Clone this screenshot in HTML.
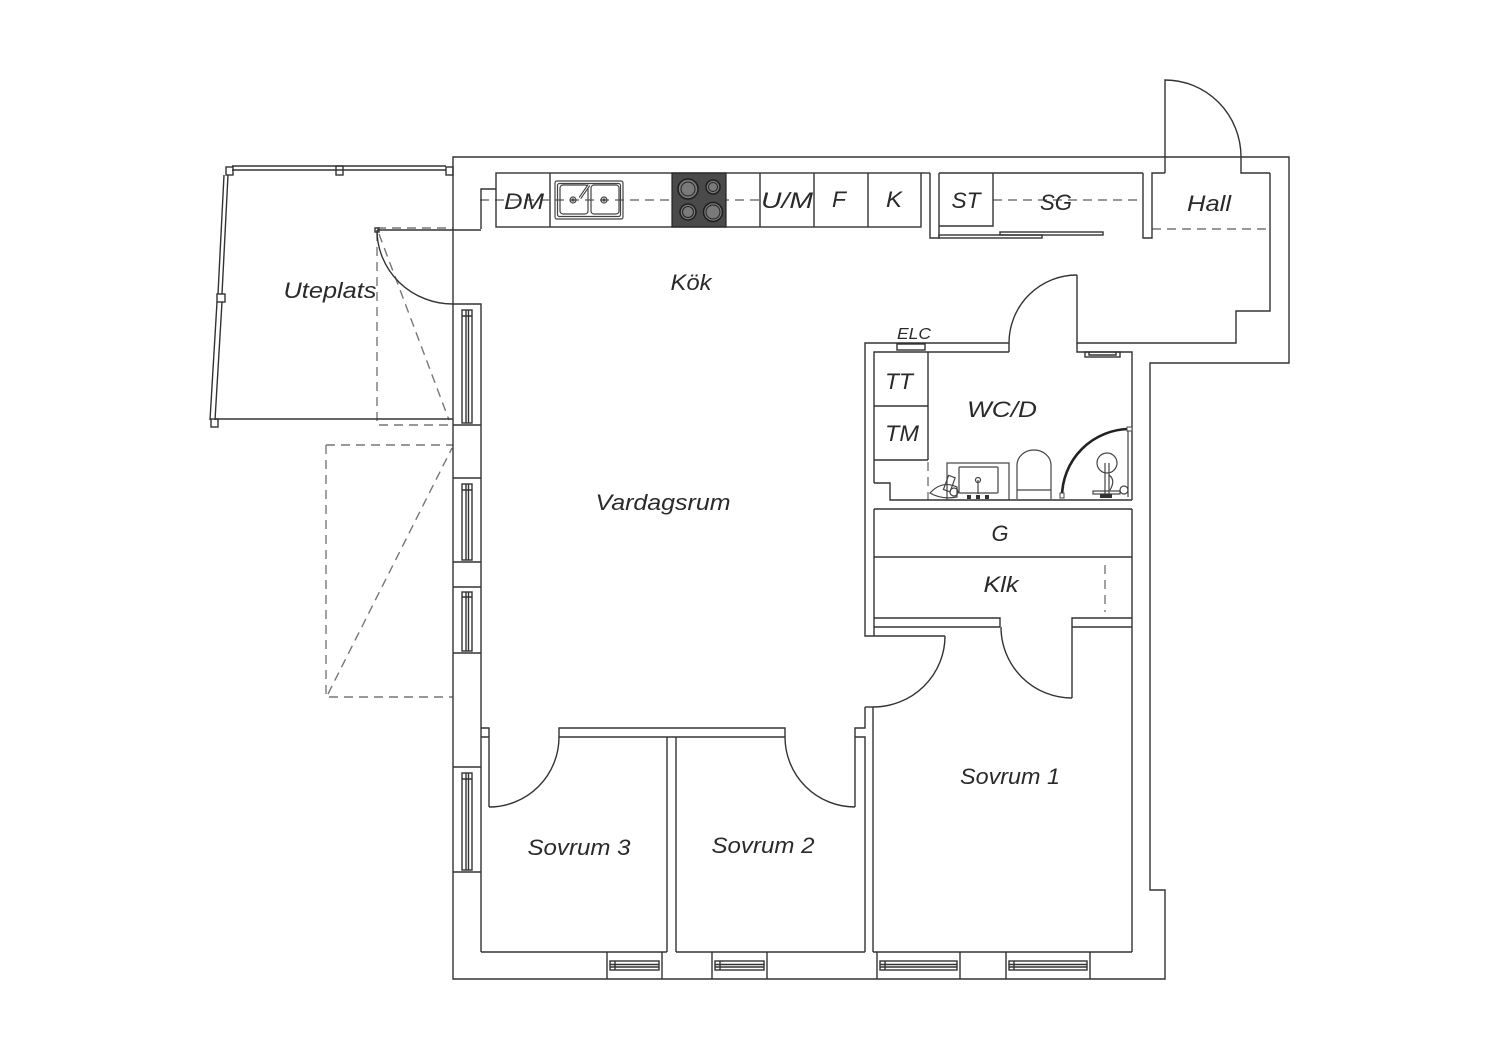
<!DOCTYPE html>
<html>
<head>
<meta charset="utf-8">
<style>
html,body{margin:0;padding:0;background:#fff;}
svg{display:block;}
text{font-family:"Liberation Sans",sans-serif;font-style:italic;fill:#2a2a2a;}
</style>
</head>
<body>
<svg width="1500" height="1060" viewBox="0 0 1500 1060" xmlns="http://www.w3.org/2000/svg">
<rect width="1500" height="1060" fill="#fff"/>

<!-- dashed lines -->
<g fill="none" stroke="#777" stroke-width="1.4" stroke-dasharray="9,6">
  <path d="M480,200 H760"/>
  <path d="M993,200 H1143"/>
  <path d="M1152,229 H1270"/>
  <path d="M377,228 H453"/>
  <path d="M377,232 V425 H453"/>
  <path d="M379,234 L449,420"/>
  <path d="M326,445 H453 M326,445 V697 H453"/>
  <path d="M328,694 L452,448"/>
  <path d="M1105,565 V612"/>
  <path d="M928,462 V500"/>
</g>

<g fill="none" stroke="#333" stroke-width="1.4" stroke-linejoin="miter">
  <!-- outer boundary -->
  <path d="M453,157 H1289 V363 H1150 V890 H1165 V979 H453 Z"/>

  <!-- Uteplats railing -->
  <path d="M232,166 H446 M232,170 H446"/>
  <rect x="226" y="167" width="7" height="8"/>
  <rect x="336" y="166" width="7" height="9"/>
  <rect x="446" y="167" width="7" height="8"/>
  <path d="M224,175 L218,294 M228,175 L222,294"/>
  <path d="M217,302 L210,420 M222,302 L215,420"/>
  <rect x="217" y="294" width="8" height="8"/>
  <rect x="211" y="419" width="7" height="8"/>
  <path d="M215,419 H453"/>
  <rect x="375" y="228" width="4" height="4"/>

  <!-- left wall / kitchen corner -->
  <path d="M481,229 V189 H496"/>
  <path d="M377,230 H481"/>
  <path d="M377,230 A76,74 0 0 0 453,304"/>
  <path d="M453,304 H481 V952"/>

  <!-- kitchen counter -->
  <rect x="496" y="173" width="425" height="54"/>
  <path d="M550,173 V227 M760,173 V227 M814,173 V227 M868,173 V227"/>
  <path d="M921,173 H930"/>
  <!-- kitchen / ST wall -->
  <path d="M930,173 V238 H939 V173"/>
  <path d="M939,173 H1143"/>
  <path d="M939,226 H993 V173"/>
  <path d="M1143,173 V238 H1152 V173 H1165"/>
  <rect x="939" y="235" width="103" height="3"/>
  <rect x="1000" y="232" width="103" height="3"/>

  <!-- entrance door -->
  <path d="M1165,173 V80 A76,77 0 0 1 1241,157 V173 H1270"/>

  <!-- hall right / WC top -->
  <path d="M1270,173 V311 H1236 V343 H1077 V275"/>
  <path d="M1077,275 A68,68 0 0 0 1009,343"/>
  <path d="M1009,343 V352"/>
  <path d="M1009,343 H865 V636 H945"/>
  <path d="M945,636 A72,71 0 0 1 873,707"/>
  <path d="M865,707 H873"/>
  <path d="M865,707 V728 H855 V807"/>
  <path d="M855,807 A70,70 0 0 1 785,737"/>
  <path d="M785,737 V728 H559 V737 H785"/>
  <path d="M559,737 A70,70 0 0 1 489,807"/>
  <path d="M489,807 V737 H481 M481,728 H489 V737"/>
  <path d="M855,737 H865 V952"/>

  <!-- bedroom partitions -->
  <path d="M667,737 V952 M676,737 V952"/>
  <path d="M873,707 V952"/>
  <path d="M481,952 H667 M676,952 H865 M873,952 H1132"/>
  <path d="M1132,509 V952"/>

  <!-- closets G / Klk -->
  <path d="M874,509 V636"/>
  <path d="M874,509 H1132"/>
  <path d="M874,557 H1132"/>
  <path d="M874,618 H1000 V627 M874,627 H1000"/>
  <path d="M1072,698 V618 H1132 M1072,627 H1132"/>
  <path d="M1072,698 A71,71 0 0 1 1001,627"/>

  <!-- WC -->
  <path d="M874,483 V352 H1009"/>
  <path d="M1077,343 V352 H1132 V500"/>
  <path d="M874,483 H890 V500 H1132"/>
  <path d="M928,352 V460 M874,406 H928 M874,460 H928"/>
  <rect x="897" y="344" width="28" height="6"/>
  <rect x="1085" y="352" width="35" height="5"/>
  <path d="M1089,352 V355 H1116 V352"/>

  <!-- left wall windows -->
  <path d="M453,425 H481 M453,478 H481 M453,562 H481 M453,587 H481 M453,653 H481 M453,767 H481 M453,872 H481"/>
  <rect x="462" y="310" width="10" height="113"/>
  <path d="M466,310 V423 M468.5,310 V423 M462,316 H472"/>
  <rect x="462" y="484" width="10" height="76"/>
  <path d="M466,484 V560 M468.5,484 V560 M462,490 H472"/>
  <rect x="462" y="592" width="10" height="59"/>
  <path d="M466,592 V651 M468.5,592 V651 M462,597 H472"/>
  <rect x="462" y="773" width="10" height="97"/>
  <path d="M466,773 V870 M468.5,773 V870 M462,779 H472"/>

  <!-- bottom windows -->
  <path d="M607,952 V979 M662,952 V979 M712,952 V979 M767,952 V979 M877,952 V979 M960,952 V979 M1006,952 V979 M1090,952 V979"/>
  <rect x="610" y="961" width="49" height="9"/>
  <path d="M610,964.5 H659 M610,967 H659 M615,961 V970"/>
  <rect x="715" y="961" width="49" height="9"/>
  <path d="M715,964.5 H764 M715,967 H764 M720,961 V970"/>
  <rect x="880" y="961" width="77" height="9"/>
  <path d="M880,964.5 H957 M880,967 H957 M885,961 V970"/>
  <rect x="1009" y="961" width="78" height="9"/>
  <path d="M1009,964.5 H1087 M1009,967 H1087 M1014,961 V970"/>
</g>

<!-- kitchen sink -->
<g fill="none" stroke="#444" stroke-width="1.2">
  <rect x="555" y="181" width="68" height="38" rx="2"/>
  <rect x="557.5" y="183.5" width="63" height="33" rx="2"/>
  <rect x="560" y="185" width="28" height="29" rx="3"/>
  <rect x="591" y="185" width="28" height="29" rx="3"/>
  <circle cx="573" cy="200" r="3"/>
  <circle cx="604" cy="200" r="3"/>
  <circle cx="573" cy="200" r="1"/>
  <circle cx="604" cy="200" r="1"/>
</g>
<path d="M580,198 L589,185" stroke="#333" stroke-width="3" fill="none"/>
<path d="M580,198 L589,185" stroke="#fff" stroke-width="1" fill="none"/>

<!-- hob -->
<rect x="672" y="173" width="54" height="54" fill="#4a4a4a" stroke="#222" stroke-width="1.2"/>
<g stroke="#1e1e1e" stroke-width="1.5" fill="#7a7a7a">
  <circle cx="688" cy="189" r="10"/>
  <circle cx="713" cy="187" r="7"/>
  <circle cx="688" cy="212" r="8"/>
  <circle cx="713" cy="212" r="9.5"/>
</g>
<g stroke="#222" stroke-width="1" fill="none">
  <circle cx="688" cy="189" r="7"/>
  <circle cx="713" cy="187" r="4.5"/>
  <circle cx="688" cy="212" r="5.5"/>
  <circle cx="713" cy="212" r="7"/>
</g>

<!-- bathroom fixtures -->
<g fill="none" stroke="#444" stroke-width="1.2">
  <rect x="947" y="463" width="62" height="37"/>
  <rect x="959" y="467" width="39" height="26" rx="1"/>
  <path d="M978,480 V494"/>
  <circle cx="978" cy="480" r="2.5"/>
  <path d="M1017,499 V465 A17,15 0 0 1 1051,465 V499"/>
  <path d="M1017,490 H1051"/>
  <path d="M930,493 Q942,480 957,487 L957,497 Q942,500 930,493 Z"/>
  <rect x="946" y="476" width="7" height="15" transform="rotate(20 949 483)"/>
  <circle cx="954" cy="492" r="4"/>
  <circle cx="1107" cy="463" r="10"/>
  <path d="M1105,463 V497 M1109,463 V497"/>
  <path d="M1109,475 Q1116,480 1110,490"/>
  <circle cx="1124" cy="490" r="4"/>
  <rect x="1093" y="491" width="27" height="3"/>
  <path d="M1128,430 V497"/>
</g>
<path d="M1062,497 A68,68 0 0 1 1130,429" fill="none" stroke="#222" stroke-width="2.6"/>
<rect x="1127" y="427" width="5" height="4" fill="#fff" stroke="#444" stroke-width="1"/>
<rect x="1060" y="493" width="4" height="5" fill="#fff" stroke="#444" stroke-width="1"/>
<g fill="#333">
  <rect x="967" y="495" width="4" height="4"/>
  <rect x="976" y="495" width="4" height="4"/>
  <rect x="985" y="495" width="4" height="4"/>
  <rect x="1100" y="494" width="12" height="4"/>
</g>

<!-- labels -->
<g font-size="22">
  <text x="524" y="209" text-anchor="middle" textLength="40" lengthAdjust="spacingAndGlyphs">DM</text>
  <text x="787" y="208" text-anchor="middle" textLength="52" lengthAdjust="spacingAndGlyphs">U/M</text>
  <text x="839" y="207" text-anchor="middle" textLength="14" lengthAdjust="spacingAndGlyphs">F</text>
  <text x="894" y="207" text-anchor="middle" textLength="16" lengthAdjust="spacingAndGlyphs">K</text>
  <text x="966" y="208" text-anchor="middle" textLength="29" lengthAdjust="spacingAndGlyphs">ST</text>
  <text x="1056" y="210" text-anchor="middle" textLength="32" lengthAdjust="spacingAndGlyphs">SG</text>
  <text x="1209" y="211" text-anchor="middle" textLength="44" lengthAdjust="spacingAndGlyphs">Hall</text>
  <text x="691" y="290" text-anchor="middle" textLength="41" lengthAdjust="spacingAndGlyphs">Kök</text>
  <text x="330" y="298" text-anchor="middle" textLength="93" lengthAdjust="spacingAndGlyphs">Uteplats</text>
  <text x="899" y="389" text-anchor="middle" textLength="28" lengthAdjust="spacingAndGlyphs">TT</text>
  <text x="902" y="441" text-anchor="middle" textLength="34" lengthAdjust="spacingAndGlyphs">TM</text>
  <text x="1002" y="417" text-anchor="middle" textLength="70" lengthAdjust="spacingAndGlyphs">WC/D</text>
  <text x="663" y="510" text-anchor="middle" textLength="135" lengthAdjust="spacingAndGlyphs">Vardagsrum</text>
  <text x="1000" y="541" text-anchor="middle" textLength="17" lengthAdjust="spacingAndGlyphs">G</text>
  <text x="1001" y="592" text-anchor="middle" textLength="35" lengthAdjust="spacingAndGlyphs">Klk</text>
  <text x="1010" y="784" text-anchor="middle" textLength="100" lengthAdjust="spacingAndGlyphs">Sovrum 1</text>
  <text x="579" y="855" text-anchor="middle" textLength="103" lengthAdjust="spacingAndGlyphs">Sovrum 3</text>
  <text x="763" y="853" text-anchor="middle" textLength="103" lengthAdjust="spacingAndGlyphs">Sovrum 2</text>
</g>
<text x="914" y="339" font-size="16" text-anchor="middle" textLength="34" lengthAdjust="spacingAndGlyphs">ELC</text>
</svg>
</body>
</html>
